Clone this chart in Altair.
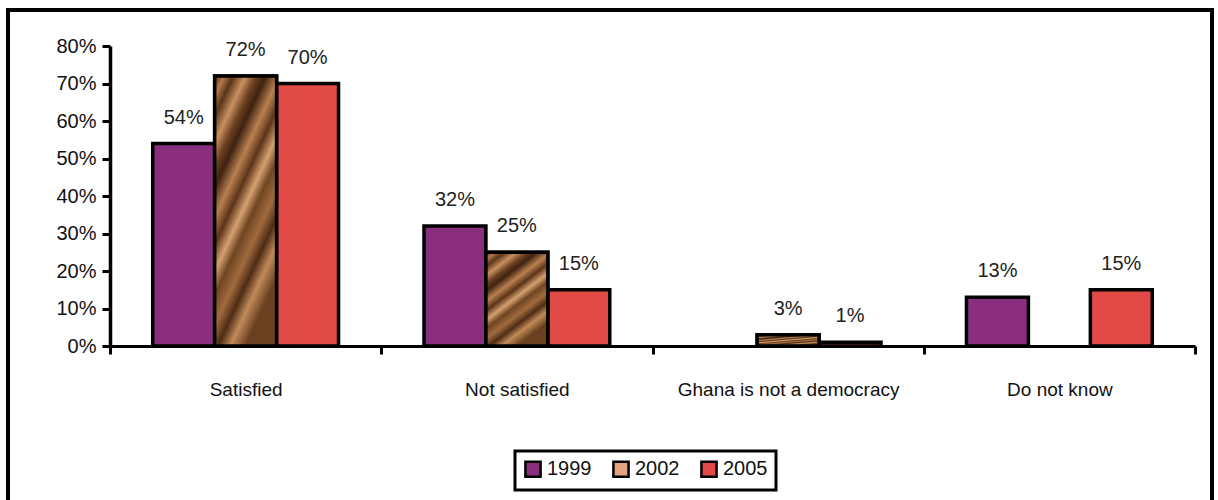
import altair as alt
import pandas as pd

categories = ["Satisfied", "Not satisfied", "Ghana is not a democracy", "Do not know"]
years = ["1999", "2002", "2005"]
v1999 = [54, 32, None, 13]
v2002 = [72, 25, 3, None]
v2005 = [70, 15, 1, 15]

rows = []
for yr, vals in zip(years, [v1999, v2002, v2005]):
    for c, v in zip(categories, vals):
        if v is not None:
            rows.append({"category": c, "year": yr, "value": v, "label": f"{v}%"})
df = pd.DataFrame(rows)

FONT = "Liberation Sans"
colors = ["#8a2f7e", "#e3a47f", "#e24a47"]

texture = {
    "gradient": "linear", "x1": 0, "y1": 0, "x2": 0.5, "y2": 1,
    "stops": [
        {"offset": 0.0, "color": "#4a2a15"},
        {"offset": 0.06, "color": "#b07848"},
        {"offset": 0.12, "color": "#5a3519"},
        {"offset": 0.2, "color": "#c89060"},
        {"offset": 0.27, "color": "#6b4020"},
        {"offset": 0.33, "color": "#3e2210"},
        {"offset": 0.42, "color": "#b98050"},
        {"offset": 0.5, "color": "#5c3418"},
        {"offset": 0.58, "color": "#d4a070"},
        {"offset": 0.65, "color": "#704522"},
        {"offset": 0.74, "color": "#a06a3e"},
        {"offset": 0.82, "color": "#4e2c14"},
        {"offset": 0.9, "color": "#c08a58"},
        {"offset": 1.0, "color": "#6a4020"},
    ],
}

x = alt.X("category:N", sort=categories,
          scale=alt.Scale(paddingInner=0, paddingOuter=0),
          axis=alt.Axis(title=None, labelAngle=0, labelFont=FONT, labelFontSize=19,
                        labelColor="#111", labelPadding=26, tickBand="extent", labelLimit=400,
                        tickSize=8, tickWidth=3, tickColor="black",
                        domainWidth=3, domainColor="black"))
xo = alt.XOffset("year:N", sort=years,
                 scale=alt.Scale(domain=years, paddingInner=0, paddingOuter=0.69))
y = alt.Y("value:Q", scale=alt.Scale(domain=[0, 80], nice=False),
          axis=alt.Axis(title=None, values=list(range(0, 81, 10)), labelExpr="datum.value + '%'",
                        labelFont=FONT, labelFontSize=20, labelColor="#111", grid=False,
                        tickSize=8, tickWidth=3, tickColor="black", labelPadding=6,
                        domainWidth=3.5, domainColor="black"))

base = alt.Chart(df)

bars = base.mark_bar(stroke="black", strokeWidth=3.5).encode(
    x=x, xOffset=xo, y=y,
    color=alt.Color("year:N", sort=years, scale=alt.Scale(domain=years, range=colors),
                    legend=alt.Legend(title=None, orient="none", legendX=405, legendY=405,
                                      direction="horizontal", symbolType="square",
                                      symbolSize=230, symbolStrokeColor="black",
                                      symbolStrokeWidth=2.5, labelFont=FONT, labelFontSize=20,
                                      labelColor="#111", columnPadding=16, symbolOffset=0,
                                      labelOffset=4, strokeColor="black", padding=8)),
)

tex = base.transform_filter("datum.year == '2002'").mark_bar(
    stroke="black", strokeWidth=3.5, fill=texture).encode(x=x, xOffset=xo, y=y)

labels = base.mark_text(dy=-20, font=FONT, fontSize=20, color="#222", baseline="alphabetic").encode(
    x=x, xOffset=xo, y=y, text="label:N")

frame = alt.Chart(alt.Data(values=[{"a": 1}])).mark_rect(
    fillOpacity=0, stroke="black", strokeWidth=4).encode(
    x=alt.value(-102), x2=alt.value(1102), y=alt.value(-36), y2=alt.value(480))

chart = alt.layer(bars, tex, labels, frame).properties(
    width=1085, height=300,
    autosize=alt.AutoSizeParams(type="none"),
    padding={"left": 110, "top": 46, "right": 23, "bottom": 154},
    background="white",
).configure_view(stroke=None).configure_legend(strokeWidth=3)

chart.save("out.html", embed_options={"renderer": "svg", "actions": False})
